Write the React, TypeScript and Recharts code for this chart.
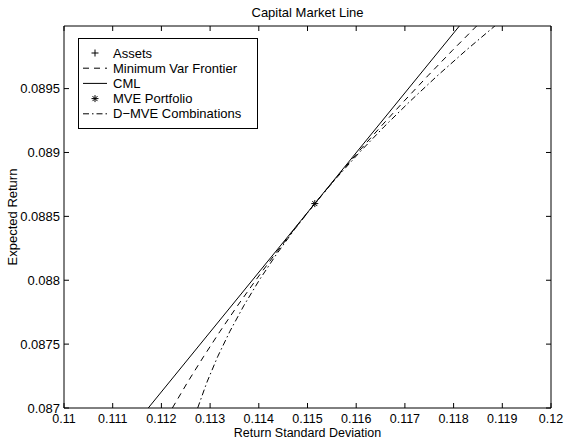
import React from 'react';
import { ComposedChart, Line, Scatter, XAxis, YAxis, Legend } from 'recharts';

// expected return grid shared by the two curved series
const frontierMu = [0.087, 0.0872, 0.0874, 0.0876, 0.0878, 0.088, 0.0882, 0.0884, 0.0886, 0.0888, 0.089, 0.0892, 0.0894, 0.0896, 0.0898, 0.09];
const frontierSigma = [0.112225, 0.112535, 0.112862, 0.113204, 0.113562, 0.113936, 0.114325, 0.11473, 0.11515, 0.115584, 0.116034, 0.116499, 0.116978, 0.117471, 0.117978, 0.118499];
const dmveSigma = [0.112745, 0.112933, 0.113153, 0.113406, 0.113691, 0.114008, 0.114357, 0.114738, 0.11515, 0.115593, 0.116066, 0.116569, 0.117103, 0.117665, 0.118257, 0.118877];

const cmlSigma = [0.11173, 0.11814];
const cmlMu = [0.087, 0.09];

const mveSigma = [0.11515];
const mveMu = [0.0886];

const xTicks = [0.11, 0.111, 0.112, 0.113, 0.114, 0.115, 0.116, 0.117, 0.118, 0.119, 0.12];
const yTicks = [0.087, 0.0875, 0.088, 0.0885, 0.089, 0.0895];

const legendNames = ['Assets', 'Minimum Var Frontier', 'CML', 'MVE Portfolio', 'D\u2212MVE Combinations'];

const zip = (s: number[], m: number[]) => s.map((v, i) => ({ sigma: v, mu: m[i] }));
const frontier = zip(frontierSigma, frontierMu);
const dmve = zip(dmveSigma, frontierMu);
const cml = zip(cmlSigma, cmlMu);
const mve = zip(mveSigma, mveMu);

const FONT = '"Liberation Sans", Arial, Helvetica, sans-serif';
const FS = 13;
const FS_X = 12.5;
const DASH = '6 5';
const DASHDOT = '6 3 1.5 3';

const fmt = (v: number) => String(+v.toFixed(4));

const Asterisk = ({ cx, cy }: any) => (
  <g stroke="#000" strokeWidth={1}>
    <line x1={cx - 3.5} y1={cy} x2={cx + 3.5} y2={cy} />
    <line x1={cx} y1={cy - 3.5} x2={cx} y2={cy + 3.5} />
    <line x1={cx - 2.5} y1={cy - 2.5} x2={cx + 2.5} y2={cy + 2.5} />
    <line x1={cx - 2.5} y1={cy + 2.5} x2={cx + 2.5} y2={cy - 2.5} />
  </g>
);

// ticks point into the plot box, like a boxed axes frame
const BottomTick = ({ x, y, payload }: any) => (
  <g>
    <line x1={x} y1={y} x2={x} y2={y - 5} stroke="#000" />
    <text x={x} y={y + 14.5} textAnchor="middle" fontSize={FS_X} fontFamily={FONT} fill="#000">
      {fmt(payload.value)}
    </text>
  </g>
);
const TopTick = ({ x, y }: any) => <line x1={x} y1={y} x2={x} y2={y + 5} stroke="#000" />;
const LeftTick = ({ x, y, payload }: any) => (
  <g>
    <line x1={x} y1={y} x2={x + 5} y2={y} stroke="#000" />
    <text x={x - 4} y={y + 4.6} textAnchor="end" fontSize={FS} fontFamily={FONT} fill="#000">
      {fmt(payload.value)}
    </text>
  </g>
);
const RightTick = ({ x, y }: any) => <line x1={x} y1={y} x2={x - 5} y2={y} stroke="#000" />;

const LegendBox = () => (
  <svg width={180} height={91} style={{ display: 'block' }}>
    <rect x={0.5} y={0.5} width={179} height={90} fill="#fff" stroke="#000" />
    {legendNames.map((name, i) => {
      const cy = 15 + i * 15.2;
      let sample: React.ReactNode = null;
      if (i === 0) {
        sample = (
          <g stroke="#000">
            <line x1={13.5} y1={cy} x2={20.5} y2={cy} />
            <line x1={17} y1={cy - 3.5} x2={17} y2={cy + 3.5} />
          </g>
        );
      } else if (i === 1) {
        sample = <line x1={5} y1={cy} x2={29} y2={cy} stroke="#000" strokeDasharray={DASH} />;
      } else if (i === 2) {
        sample = <line x1={5} y1={cy} x2={29} y2={cy} stroke="#000" />;
      } else if (i === 3) {
        sample = <Asterisk cx={17} cy={cy} />;
      } else {
        sample = <line x1={5} y1={cy} x2={29} y2={cy} stroke="#000" strokeDasharray={DASHDOT} />;
      }
      return (
        <g key={name}>
          {sample}
          <text x={35} y={cy + 4.6} fontSize={FS} fontFamily={FONT} fill="#000">
            {name}
          </text>
        </g>
      );
    })}
  </svg>
);

export default function App() {
  return (
    <div style={{ position: 'absolute', left: 0, top: 0, background: '#fff' }}>
      <ComposedChart width={564} height={440} margin={{ top: 25, right: 12, bottom: 0, left: 0 }}>
        <XAxis
          xAxisId="b"
          dataKey="sigma"
          type="number"
          domain={[0.11, 0.12]}
          ticks={xTicks}
          interval={0}
          allowDataOverflow
          height={32}
          tickSize={0}
          tickMargin={0}
          tickLine={false}
          tick={<BottomTick />}
          axisLine={{ stroke: '#000' }}
          label={({ viewBox }: any) => (
            <text
              x={viewBox.x + viewBox.width / 2}
              y={viewBox.y + viewBox.height - 3.5}
              textAnchor="middle"
              fontSize={FS_X}
              fontFamily={FONT}
              fill="#000"
            >
              Return Standard Deviation
            </text>
          )}
        />
        <XAxis
          xAxisId="t"
          orientation="top"
          dataKey="sigma"
          type="number"
          domain={[0.11, 0.12]}
          ticks={xTicks}
          interval={0}
          allowDataOverflow
          height={1}
          tickSize={0}
          tickMargin={0}
          tickLine={false}
          tick={<TopTick />}
          axisLine={{ stroke: '#000' }}
          label={({ viewBox }: any) => (
            <text
              x={viewBox.x + viewBox.width / 2}
              y={viewBox.y - 8.5}
              textAnchor="middle"
              fontSize={FS}
              fontFamily={FONT}
              fill="#000"
            >
              Capital Market Line
            </text>
          )}
        />
        <YAxis
          yAxisId="l"
          type="number"
          domain={[0.087, 0.08999]}
          ticks={yTicks}
          interval={0}
          allowDataOverflow
          width={64}
          tickSize={0}
          tickMargin={0}
          tickLine={false}
          tick={<LeftTick />}
          axisLine={{ stroke: '#000' }}
          label={({ viewBox }: any) => {
            const cx = viewBox.x + 12;
            const cy = viewBox.y + viewBox.height / 2;
            return (
              <text
                x={cx}
                y={cy}
                transform={`rotate(-90 ${cx} ${cy})`}
                textAnchor="middle"
                dominantBaseline="central"
                fontSize={FS}
                fontFamily={FONT}
                fill="#000"
              >
                Expected Return
              </text>
            );
          }}
        />
        <YAxis
          yAxisId="r"
          orientation="right"
          type="number"
          domain={[0.087, 0.08999]}
          ticks={yTicks}
          interval={0}
          allowDataOverflow
          width={1}
          tickSize={0}
          tickMargin={0}
          tickLine={false}
          tick={<RightTick />}
          axisLine={{ stroke: '#000' }}
        />
        <Legend
          layout="vertical"
          align="center"
          verticalAlign="middle"
          content={<LegendBox />}
          wrapperStyle={{ left: 78, top: 38, width: 180, height: 91 }}
        />
        <Line
          xAxisId="b"
          yAxisId="l"
          data={frontier}
          dataKey="mu"
          type="linear"
          stroke="#000"
          strokeWidth={1}
          strokeDasharray={DASH}
          dot={false}
          isAnimationActive={false}
        />
        <Line
          xAxisId="b"
          yAxisId="l"
          data={dmve}
          dataKey="mu"
          type="linear"
          stroke="#000"
          strokeWidth={1}
          strokeDasharray={DASHDOT}
          dot={false}
          isAnimationActive={false}
        />
        <Line
          xAxisId="b"
          yAxisId="l"
          data={cml}
          dataKey="mu"
          type="linear"
          stroke="#000"
          strokeWidth={1}
          dot={false}
          isAnimationActive={false}
        />
        <Scatter
          xAxisId="b"
          yAxisId="l"
          data={mve}
          dataKey="mu"
          shape={<Asterisk />}
          isAnimationActive={false}
        />
      </ComposedChart>
    </div>
  );
}
